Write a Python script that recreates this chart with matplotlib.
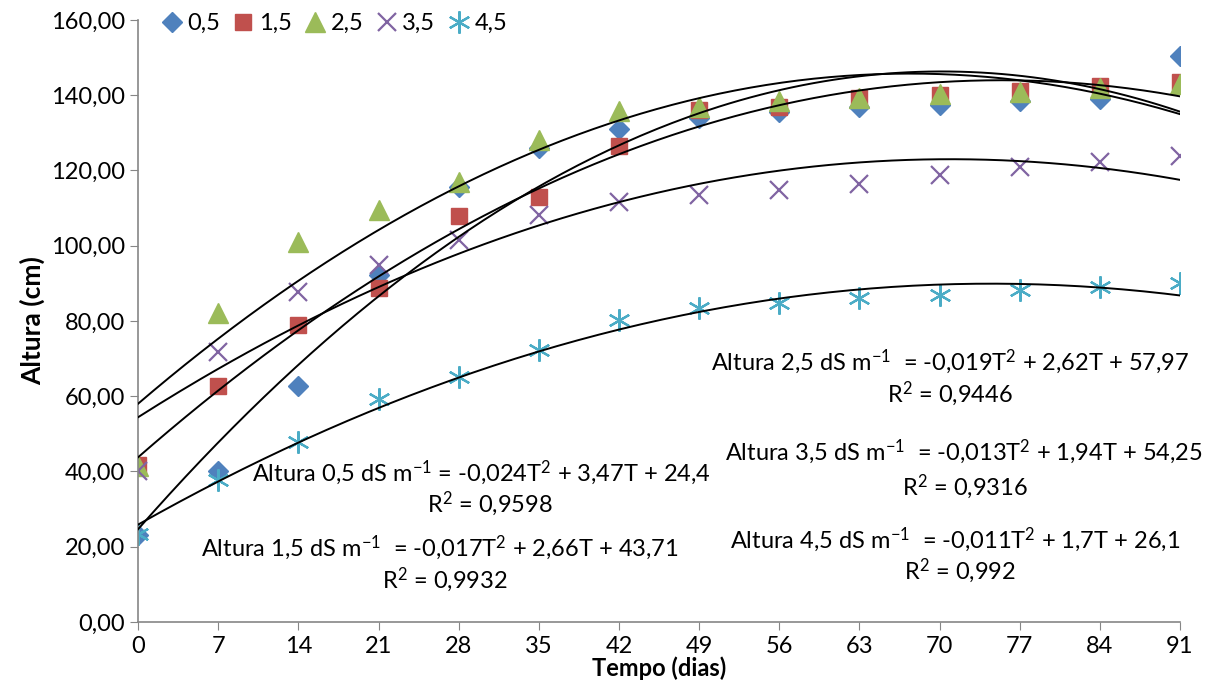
import numpy as np
import matplotlib
matplotlib.use("Agg")
import matplotlib.pyplot as plt

plt.rcParams["font.family"] = ["Lato", "DejaVu Sans"]
plt.rcParams["mathtext.fontset"] = "custom"
plt.rcParams["mathtext.rm"] = "Lato"
plt.rcParams["mathtext.it"] = "Lato:italic"
plt.rcParams["mathtext.bf"] = "Lato:bold"
plt.rcParams["axes.unicode_minus"] = False

# Dados
tempo = [0, 7, 14, 21, 28, 35, 42, 49, 56, 63, 70, 77, 84, 91]
altura_05 = [23.0, 40.0, 62.7, 92.2, 115.5, 126.0, 131.0, 134.0, 135.5, 137.0, 137.5, 138.5, 139.0, 150.5]
altura_15 = [41.7, 62.7, 78.9, 88.8, 107.9, 113.0, 126.5, 136.0, 136.8, 139.2, 140.0, 141.2, 142.5, 143.5]
altura_25 = [41.5, 82.1, 101.0, 109.5, 117.0, 128.1, 135.9, 136.8, 138.5, 139.2, 140.3, 140.9, 141.8, 143.0]
altura_35 = [40.0, 71.8, 87.8, 94.9, 101.5, 108.2, 111.7, 113.5, 114.8, 116.4, 118.8, 121.0, 122.3, 123.9]
altura_45 = [23.4, 37.7, 47.9, 59.2, 65.2, 72.3, 80.3, 83.4, 84.7, 86.0, 86.9, 88.2, 89.1, 90.0]

series_labels = ["0,5", "1,5", "2,5", "3,5", "4,5"]
y_ticks = [0, 20, 40, 60, 80, 100, 120, 140, 160]
y_tick_labels = ["0,00", "20,00", "40,00", "60,00", "80,00", "100,00", "120,00", "140,00", "160,00"]

equacoes = [
    r"Altura 0,5 dS m$^{-1}$ = -0,024T$^{2}$ + 3,47T + 24,4",
    r"Altura 1,5 dS m$^{-1}$  = -0,017T$^{2}$ + 2,66T + 43,71",
    r"Altura 2,5 dS m$^{-1}$  = -0,019T$^{2}$ + 2,62T + 57,97",
    r"Altura 3,5 dS m$^{-1}$  = -0,013T$^{2}$ + 1,94T + 54,25",
    r"Altura 4,5 dS m$^{-1}$  = -0,011T$^{2}$ + 1,7T + 26,1",
]
r2 = [r"R$^{2}$ = 0,9598", r"R$^{2}$ = 0,9932", r"R$^{2}$ = 0,9446",
      r"R$^{2}$ = 0,9316", r"R$^{2}$ = 0,992"]

cores = ["#4F81BD", "#C0504D", "#9BBB59", "#8064A2", "#4BACC6"]

fig = plt.figure(figsize=(12.11, 6.90), dpi=100)
ax = fig.add_axes([0.114, 0.0986, 0.8604, 0.8724])

dados = [altura_05, altura_15, altura_25, altura_35, altura_45]
t = np.array(tempo)
tt = np.linspace(0, 91, 200)

# linhas de tendência polinomiais (ordem 2)
for y in dados:
    coef = np.polyfit(t, y, 2)
    ax.plot(tt, np.polyval(coef, tt), color="black", lw=1.4, zorder=3)

estilos = [
    dict(marker="D", ms=10),
    dict(marker="s", ms=12),
    dict(marker="^", ms=14),
    dict(marker="x", ms=13, mew=1.6),
    dict(marker=(6, 2, 0), ms=16, mew=1.6),
]
for y, c, lab, st in zip(dados, cores, series_labels, estilos):
    ax.plot(tempo, y, linestyle="none", color=c, label=lab, zorder=2, **st)

ax.set_xlim(0, 91)
ax.set_ylim(0, 160)
ax.set_xticks(tempo)
ax.set_yticks(y_ticks)
ax.set_yticklabels(y_tick_labels)
ax.tick_params(axis="both", labelsize=17, direction="out", length=6, color="#868686")
ax.tick_params(axis="x", pad=4)

for s in ["top", "right"]:
    ax.spines[s].set_visible(False)
for s in ["left", "bottom"]:
    ax.spines[s].set_color("#868686")
    ax.spines[s].set_linewidth(1.2)

ax.set_ylabel("Altura (cm)", fontsize=19, fontweight="bold", labelpad=4)
ax.set_xlabel("Tempo (dias)", fontsize=17, fontweight="bold", labelpad=0)

ax.legend(loc="upper left", bbox_to_anchor=(0.005, 1.035), ncol=5, frameon=False,
          fontsize=17, handletextpad=0.05, columnspacing=0.4, handlelength=1.2,
          borderaxespad=0.2)

pos_eq = [(30.0, 39.6), (26.4, 19.7), (70.9, 69.1), (72.1, 45.2), (71.4, 21.8)]
pos_r2 = [(30.7, 31.4), (26.8, 11.2), (70.9, 60.6), (72.2, 36.1), (71.8, 13.6)]
for (xp, yp), txt in zip(pos_eq, equacoes):
    ax.text(xp, yp, txt, ha="center", va="center", fontsize=17)
for (xp, yp), txt in zip(pos_r2, r2):
    ax.text(xp, yp, txt, ha="center", va="center", fontsize=17)

fig.savefig("out.png", dpi=100)
